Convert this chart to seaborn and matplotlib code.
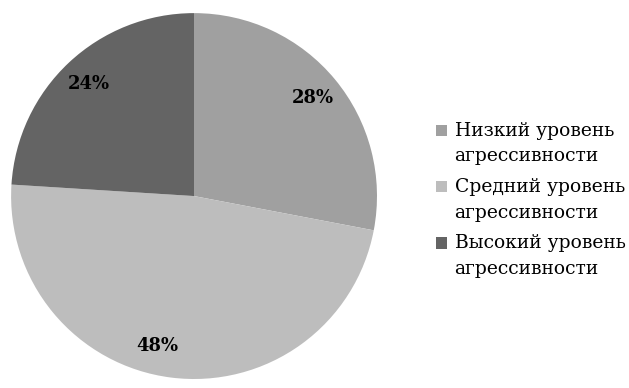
import matplotlib
matplotlib.use("Agg")
import matplotlib.pyplot as plt
from matplotlib.patches import Rectangle
from matplotlib.legend_handler import HandlerPatch
import seaborn as sns

# data
labels = ["Низкий уровень\nагрессивности",
          "Средний уровень\nагрессивности",
          "Высокий уровень\nагрессивности"]
shares = [28, 48, 24]
colors = ["#a0a0a0", "#bdbdbd", "#646464"]

FS = 13.5
LS = 1.55

sns.set_theme(style="white")
plt.rcParams['font.family'] = ['DejaVu Serif']

fig = plt.figure(figsize=(6.29, 3.88), dpi=100)
ax = fig.add_axes([0.0175, 0.0232, 0.582, 0.943])

wedges, texts, autotexts = ax.pie(
    shares, colors=colors, startangle=90, counterclock=False,
    autopct='%d%%', pctdistance=0.84, wedgeprops={'linewidth': 0},
    textprops={'fontsize': 13, 'fontweight': 'bold', 'color': 'black'})
# the 48% label sits a bit left of the slice middle in the original
autotexts[1].set_position((-0.2, -0.82))
ax.set_xlim(-1, 1)
ax.set_ylim(-1, 1)
ax.set_aspect('equal')


# legend square next to the first line of each label
def top_square(legend, orig_handle, xdescent, ydescent, width, height, fontsize):
    shift = 0.5 * LS * fontsize * 0.93
    return Rectangle((-xdescent, -ydescent + shift), width, height)


leg = fig.legend(wedges, labels, loc='center left', bbox_to_anchor=(0.667, 0.485),
                 frameon=False, fontsize=FS, handlelength=0.55, handleheight=0.55,
                 handletextpad=0.42, labelspacing=0.67,
                 handler_map={w: HandlerPatch(patch_func=top_square) for w in wedges})
for t in leg.get_texts():
    t.set_color('black')
    t.set_linespacing(LS)

fig.savefig("out.png", dpi=100)
